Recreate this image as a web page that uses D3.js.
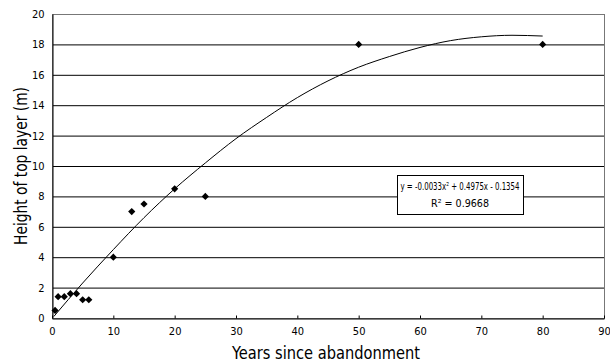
<!DOCTYPE html>
<html>
<head>
<meta charset="utf-8">
<script src="https://cdn.jsdelivr.net/npm/d3@7"></script>
<style>
  body { margin: 0; background: #fff; }
  text { font-family: "DejaVu Sans Condensed", "Liberation Sans", sans-serif; fill: #000; }
</style>
</head>
<body>
<script>
const w = 610;
const h = 364;
const plotL = 52, plotR = 604, plotT = 14, plotB = 318;

// observed points
const years = [0.5, 1, 2, 3, 4, 5, 6, 10, 13, 15, 20, 25, 50, 80];
const heights = [0.5, 1.4, 1.4, 1.6, 1.6, 1.2, 1.2, 4, 7, 7.5, 8.5, 8, 18, 18];

// trend line
const trendX = [0.3, 5, 10, 15, 20, 25, 30, 35, 40, 45, 50, 55, 60, 65, 70, 75, 80];
const trendY = [0.1, 2.3, 4.5, 6.6, 8.5, 10.2, 11.8, 13.2, 14.5, 15.6, 16.5, 17.2, 17.8, 18.25, 18.5, 18.6, 18.55];

const xTicks = [0, 10, 20, 30, 40, 50, 60, 70, 80, 90];
const yTicks = [0, 2, 4, 6, 8, 10, 12, 14, 16, 18, 20];

const xScale = d3.scaleLinear().domain([0, 90]).range([plotL, plotR]);
const yScale = d3.scaleLinear().domain([0, 20]).range([plotB, plotT]);

const svg = d3.select("body").append("svg")
  .attr("width", w)
  .attr("height", h);

// GRID
svg.append("g")
  .selectAll("line")
  .data(yTicks.filter(d => d > 0 && d < 20))
  .join("line")
  .attr("x1", plotL).attr("x2", plotR)
  .attr("y1", d => yScale(d) + 0.5).attr("y2", d => yScale(d) + 0.5)
  .attr("stroke", "#000");

// frame
svg.append("rect")
  .attr("x", plotL + 0.5).attr("y", plotT + 0.5)
  .attr("width", plotR - plotL).attr("height", plotB - plotT)
  .attr("fill", "none")
  .attr("stroke", "#777");

// AXES
const xAxis = svg.append("g")
  .attr("transform", `translate(0, ${plotB + 0.5})`)
  .call(d3.axisBottom(xScale).tickValues(xTicks).tickSizeInner(-3).tickSizeOuter(0).tickPadding(9));
xAxis.select(".domain").attr("stroke", "#000");
xAxis.selectAll("text").attr("font-size", 11);

const yAxis = svg.append("g")
  .attr("transform", `translate(${plotL + 0.5}, 0)`)
  .call(d3.axisLeft(yScale).tickValues(yTicks).tickSize(0).tickPadding(8));
yAxis.select(".domain").attr("stroke", "#000");
yAxis.selectAll("text").attr("font-size", 11);

// TREND
const line = d3.line()
  .x((d, i) => xScale(trendX[i]))
  .y(d => yScale(d))
  .curve(d3.curveMonotoneX);

svg.append("path")
  .datum(trendY)
  .attr("d", line)
  .attr("fill", "none")
  .attr("stroke", "#000")
  .attr("stroke-width", 1);

// POINTS
svg.append("g")
  .selectAll("path")
  .data(years)
  .join("path")
  .attr("transform", (d, i) => `translate(${xScale(d)}, ${yScale(heights[i])}) rotate(45)`)
  .attr("d", d3.symbol(d3.symbolSquare, 26))
  .attr("fill", "#000");

// EQUATION BOX
const box = svg.append("g");
box.append("rect")
  .attr("x", 397.5).attr("y", 175.5)
  .attr("width", 126).attr("height", 39)
  .attr("fill", "#fff")
  .attr("stroke", "#000");
box.append("text")
  .attr("x", 460).attr("y", 190)
  .attr("text-anchor", "middle")
  .attr("font-size", 11)
  .attr("textLength", 119)
  .attr("lengthAdjust", "spacingAndGlyphs")
  .text("y = -0.0033x² + 0.4975x - 0.1354");
box.append("text")
  .attr("x", 460).attr("y", 207)
  .attr("text-anchor", "middle")
  .attr("font-size", 11)
  .attr("textLength", 58)
  .attr("lengthAdjust", "spacingAndGlyphs")
  .text("R² = 0.9668");

// TITLES
svg.append("text")
  .attr("x", (plotL + plotR) / 2 - 2)
  .attr("y", 359)
  .attr("text-anchor", "middle")
  .attr("font-size", 18)
  .attr("textLength", 188)
  .attr("lengthAdjust", "spacingAndGlyphs")
  .text("Years since abandonment");

svg.append("text")
  .attr("transform", `translate(27, ${(plotT + plotB) / 2}) rotate(-90)`)
  .attr("text-anchor", "middle")
  .attr("font-size", 18)
  .attr("textLength", 158)
  .attr("lengthAdjust", "spacingAndGlyphs")
  .text("Height of top layer (m)");
</script>
</body>
</html>
